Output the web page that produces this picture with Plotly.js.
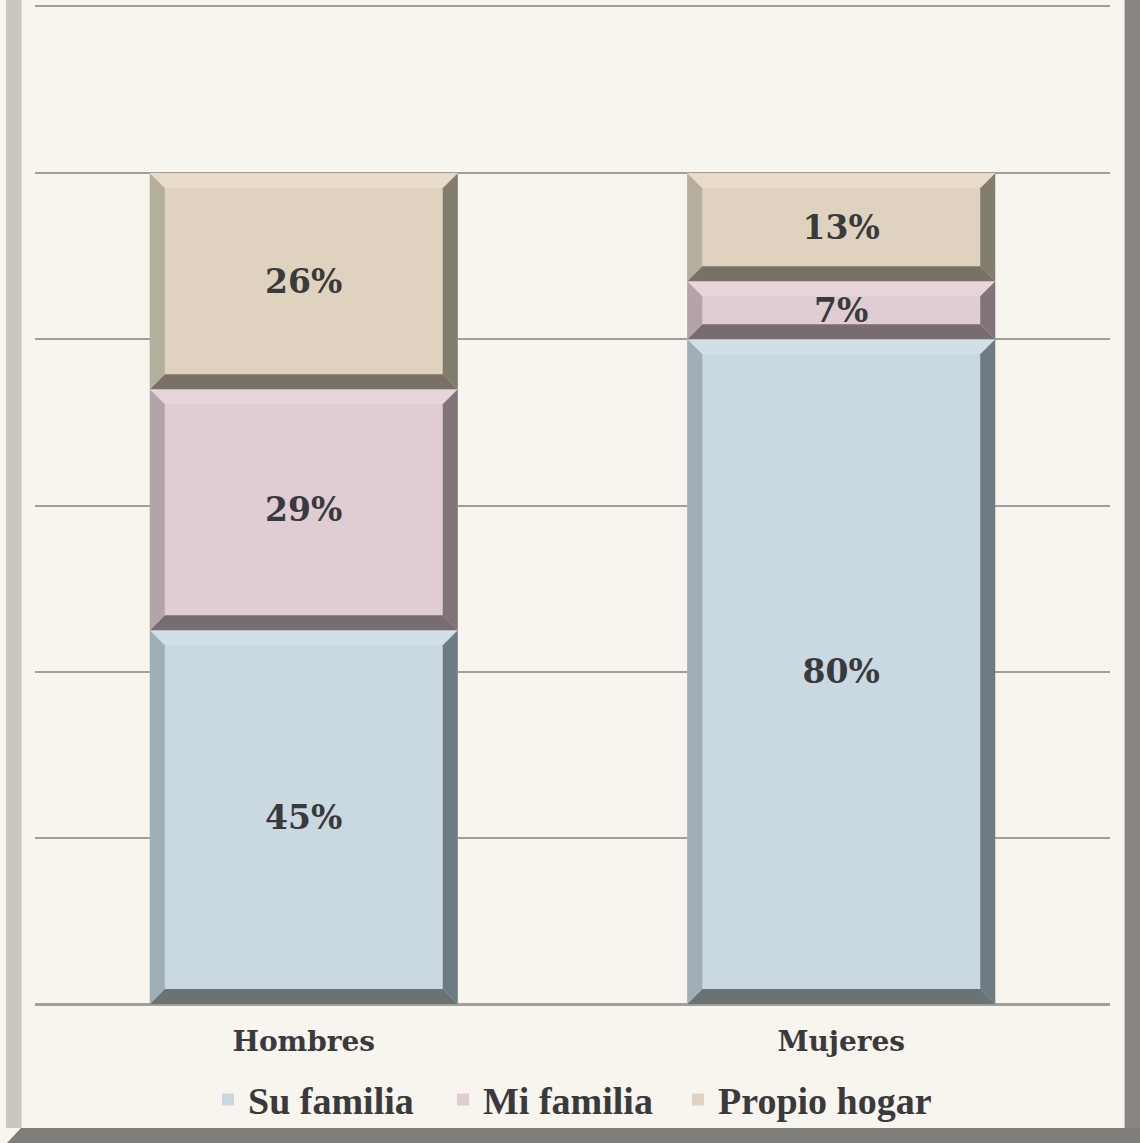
<!DOCTYPE html>
<html>
<head>
<meta charset="utf-8">
<script src="https://cdn.plot.ly/plotly-3.0.1.min.js"></script>
<style>
  html, body { margin: 0; padding: 0; background: #F8F4EE; }
  #wrap { position: relative; width: 1140px; height: 1143px; overflow: hidden; }
  #chart { position: absolute; left: 0; top: 0; width: 1140px; height: 1143px; }
  .frame { position: absolute; pointer-events: none; }
</style>
</head>
<body>
<div id="wrap">
  <div id="chart"></div>
  <div class="frame" style="left:6px;top:0;width:15px;height:1128px;background:#CBC7BF;border-right:1px solid #E2DED7;"></div>
  <div class="frame" style="left:1124px;top:0;width:16px;height:1143px;background:#898681;border-left:1px solid #C9C5BF;"></div>
  <div class="frame" style="left:6px;top:1127px;width:1134px;height:16px;background:#7F7D78;border-top:1px solid #C9C5BF;clip-path:polygon(0 100%, 15px 1px, 100% 1px, 100% 100%);"></div>
</div>
<script>
// ---- data ----
const categories = ['Hombres', 'Mujeres'];
const seriesNames = ['Su familia', 'Mi familia', 'Propio hogar'];
const suFamilia = [45, 80];
const miFamilia = [29, 7];
const propioHogar = [26, 13];
const seriesValues = [suFamilia, miFamilia, propioHogar];

// ---- styles ----
const palette = [
  { face: '#CAD8E1', top: '#D1DFE9', left: '#A0AEB6', right: '#6F7B83', bottom: '#6A7374' },
  { face: '#DFCDD3', top: '#E7D5DB', left: '#B4A3A8', right: '#807478', bottom: '#776C71' },
  { face: '#DFD3C0', top: '#E8DCC8', left: '#B4AE9C', right: '#827C6C', bottom: '#7A7166' }
];
const W = 1140, H = 1143;
const margin = { l: 35, r: 30, t: 7, b: 139, pad: 0 };
const yRange = [0, 120];
const barWidth = 0.573;
const bevelPx = 15;
const textColor = '#3A3A3C';
const gridColor = '#A19E9B';
const legendLeftPx = [208, 443, 678];   // legend box left edges (pixels)
const legendIds = ['legend', 'legend2', 'legend3'];

const plotW = W - margin.l - margin.r;
const plotH = H - margin.t - margin.b;
const bx = bevelPx / (plotW / 2);
const by = bevelPx / (plotH / (yRange[1] - yRange[0]));

const xIdx = categories.map((c, i) => i);

const traces = seriesValues.map((vals, s) => ({
  type: 'bar',
  name: seriesNames[s],
  legend: legendIds[s],
  x: xIdx,
  y: vals,
  width: barWidth,
  text: vals.map(v => v + '%'),
  textposition: 'inside',
  insidetextanchor: 'middle',
  textangle: 0,
  constraintext: 'none',
  textfont: { family: 'DejaVu Serif', size: 33, color: textColor, weight: 700 },
  marker: { color: palette[s].face, line: { width: 0 } },
  hovertemplate: '%{customdata}: %{y}%<extra>' + seriesNames[s] + '</extra>',
  customdata: categories
}));

// bevel shapes computed from the stacked data
const shapes = [];
const cum = categories.map(() => 0);
seriesValues.forEach((vals, s) => {
  vals.forEach((v, j) => {
    const x0 = xIdx[j] - barWidth / 2, x1 = xIdx[j] + barWidth / 2;
    const y0 = cum[j], y1 = cum[j] + v;
    cum[j] = y1;
    const p = palette[s];
    const mk = (d, c) => ({ type: 'path', xref: 'x', yref: 'y', path: d, fillcolor: c, line: { width: 0 }, layer: 'above' });
    shapes.push(mk(`M ${x0},${y1} L ${x1},${y1} L ${x1 - bx},${y1 - by} L ${x0 + bx},${y1 - by} Z`, p.top));
    shapes.push(mk(`M ${x0},${y0} L ${x1},${y0} L ${x1 - bx},${y0 + by} L ${x0 + bx},${y0 + by} Z`, p.bottom));
    shapes.push(mk(`M ${x0},${y0} L ${x0},${y1} L ${x0 + bx},${y1 - by} L ${x0 + bx},${y0 + by} Z`, p.left));
    shapes.push(mk(`M ${x1},${y0} L ${x1},${y1} L ${x1 - bx},${y1 - by} L ${x1 - bx},${y0 + by} Z`, p.right));
  });
});

const layout = {
  width: W,
  height: H,
  margin: margin,
  paper_bgcolor: '#F8F4EE',
  plot_bgcolor: '#F8F4EE',
  barmode: 'stack',
  showlegend: true,
  shapes: shapes,
  xaxis: {
    type: 'linear',
    range: [-0.5, 1.5],
    tickvals: xIdx,
    ticktext: categories,
    showgrid: false,
    zeroline: false,
    showline: true,
    mirror: true,
    linecolor: gridColor,
    linewidth: 2,
    ticks: '',
    ticklabelstandoff: 11,
    tickfont: { family: 'DejaVu Serif', size: 28, color: textColor, weight: 700 },
    fixedrange: true
  },
  yaxis: {
    range: yRange,
    dtick: 20,
    showticklabels: false,
    showgrid: true,
    gridcolor: gridColor,
    gridwidth: 2,
    zeroline: true,
    zerolinecolor: gridColor,
    zerolinewidth: 2,
    showline: false,
    ticks: '',
    fixedrange: true
  },
  font: { family: 'DejaVu Serif', color: textColor }
};

legendIds.forEach((id, s) => {
  layout[id] = {
    orientation: 'h',
    x: (legendLeftPx[s] - margin.l) / plotW,
    xanchor: 'left',
    y: -0.096,
    yanchor: 'middle',
    font: { family: 'Liberation Serif', size: 38, color: textColor, weight: 700 },
    bgcolor: 'rgba(0,0,0,0)',
    itemwidth: 30
  };
});

Plotly.newPlot('chart', traces, layout, { displayModeBar: false, staticPlot: false });
</script>
</body>
</html>
